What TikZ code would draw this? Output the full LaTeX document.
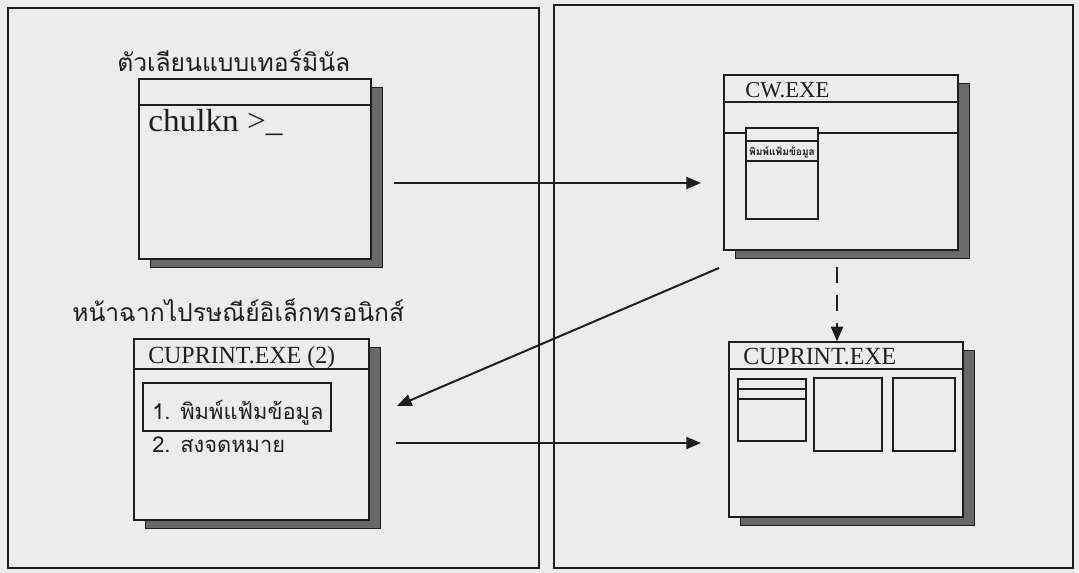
\documentclass[tikz,border=0pt]{standalone}
\usepackage{fontspec}
\setmainfont{Liberation Serif}
\newfontfamily\thaifont[Script=Thai]{Loma}
\usetikzlibrary{arrows.meta,fit}
\definecolor{paper}{RGB}{236,236,236}
\definecolor{shade}{RGB}{105,105,105}
\definecolor{ink}{RGB}{30,30,30}
\tikzset{
  panel/.style={draw=ink, line width=0.9pt, inner sep=0pt},
  win/.style={draw=ink, fill=paper, line width=0.9pt, inner sep=0pt},
  shadowbox/.style={fill=shade, draw=ink, line width=0.4pt},
  sep/.style={draw=ink, line width=0.8pt},
  conn/.style={draw=ink, line width=1.5pt, -{Triangle[length=11pt,width=9pt]}},
  dconn/.style={conn, dash pattern=on 12pt off 9pt},
  thailbl/.style={font=\thaifont\fontsize{18.5}{22}\selectfont, inner sep=0pt, text=ink},
  thaiitem/.style={font=\thaifont\fontsize{16.4}{19}\selectfont, inner sep=0pt, text=ink},
  wtitle/.style={font=\fontsize{18.5}{21}\selectfont, inner sep=0pt, text=ink, xscale=0.97, transform shape},
}
\newcommand\mywin[5]{%
  \fill[shadowbox] (#2+11,#3+8) rectangle (#4+11,#5+8);
  \node[win, fit={(#2,#3) (#4,#5)}] (#1) {};
}
\begin{document}
\begin{tikzpicture}[x=0.75pt,y=-0.75pt]
\fill[paper] (0,0) rectangle (1079,573);
\useasboundingbox (0,0) rectangle (1079,573);

% panels
\node[panel, fit={(8,8) (539,568)}] (leftpanel) {};
\node[panel, fit={(554,5) (1073,568)}] (rightpanel) {};

% terminal emulator
\node[thailbl, anchor=base west] (lblterm) at (117,72) {ตัวเลียนแบบเทอร์มินัล};
\mywin{term}{139}{79}{371}{259}
\draw[sep] (139,105) -- (371,105);
\node[anchor=base west, inner sep=0pt, text=ink, font=\fontsize{24}{28}\selectfont, xscale=1.04, transform shape] (prompt) at (148,132) {chulkn >\_};

% CW.EXE
\mywin{cw}{724}{75}{958}{250}
\draw[sep] (724,102) -- (958,102);
\node[inner sep=0pt, text=ink, font=\fontsize{17}{20}\selectfont, anchor=base west] (cwtitle) at (745,98) {CW.EXE};
\draw[sep] (724,133) -- (746,133);
\draw[sep] (818,133) -- (958,133);
\node[draw=ink, line width=0.8pt, inner sep=0pt, fit={(746,128) (818,219)}] (cwsub) {};
\draw[sep] (746,141) -- (818,141);
\draw[sep] (746,161) -- (818,161);
\node[font=\thaifont\bfseries\fontsize{7.6}{8}\selectfont, inner sep=0pt, text=ink] (cwsubtext) at (782,152) {พิมพ์แฟ้มข้อมูล};

% CUPRINT.EXE (2)
\node[thailbl, anchor=base west] (lblmail) at (72,322) {หน้าฉากไปรษณีย์อิเล็กทรอนิกส์};
\mywin{cup2}{134}{339}{369}{520}
\draw[sep] (134,369) -- (369,369);
\node[wtitle, anchor=base west] (cup2title) at (148,364) {CUPRINT.EXE (2)};
\node[draw=ink, line width=0.8pt, inner sep=0pt, fit={(143,383) (331,431)}] (item1box) {};
\node[thaiitem, anchor=base west] (item1) at (152,420) {1. พิมพ์แฟ้มข้อมูล};
\node[thaiitem, anchor=base west] (item2) at (152,453) {2. สงจดหมาย};

% CUPRINT.EXE
\mywin{cup}{729}{342}{963}{517}
\draw[sep] (729,369) -- (963,369);
\node[wtitle, anchor=base west] (cuptitle) at (743,365) {CUPRINT.EXE};
\node[draw=ink, line width=0.8pt, inner sep=0pt, fit={(738,379) (806,441)}] (pane1) {};
\draw[sep] (738,389) -- (806,389);
\draw[sep] (738,399) -- (806,399);
\node[draw=ink, line width=0.8pt, inner sep=0pt, fit={(814,378) (882,451)}] (pane2) {};
\node[draw=ink, line width=0.8pt, inner sep=0pt, fit={(893,378) (955,451)}] (pane3) {};

% connectors
\coordinate (a1s) at (394,183);
\coordinate (a1e) at (701,183);
\draw[conn] (a1s) -- (a1e);
\coordinate (a2s) at (719,268);
\coordinate (a2e) at (397,406);
\draw[conn] (a2s) -- (a2e);
\coordinate (a3s) at (396,443);
\coordinate (a3e) at (701,443);
\draw[conn] (a3s) -- (a3e);
\coordinate (a4s) at (837,267);
\draw[dconn] (a4s) -- (cup.north -| a4s);
\end{tikzpicture}
\end{document}
